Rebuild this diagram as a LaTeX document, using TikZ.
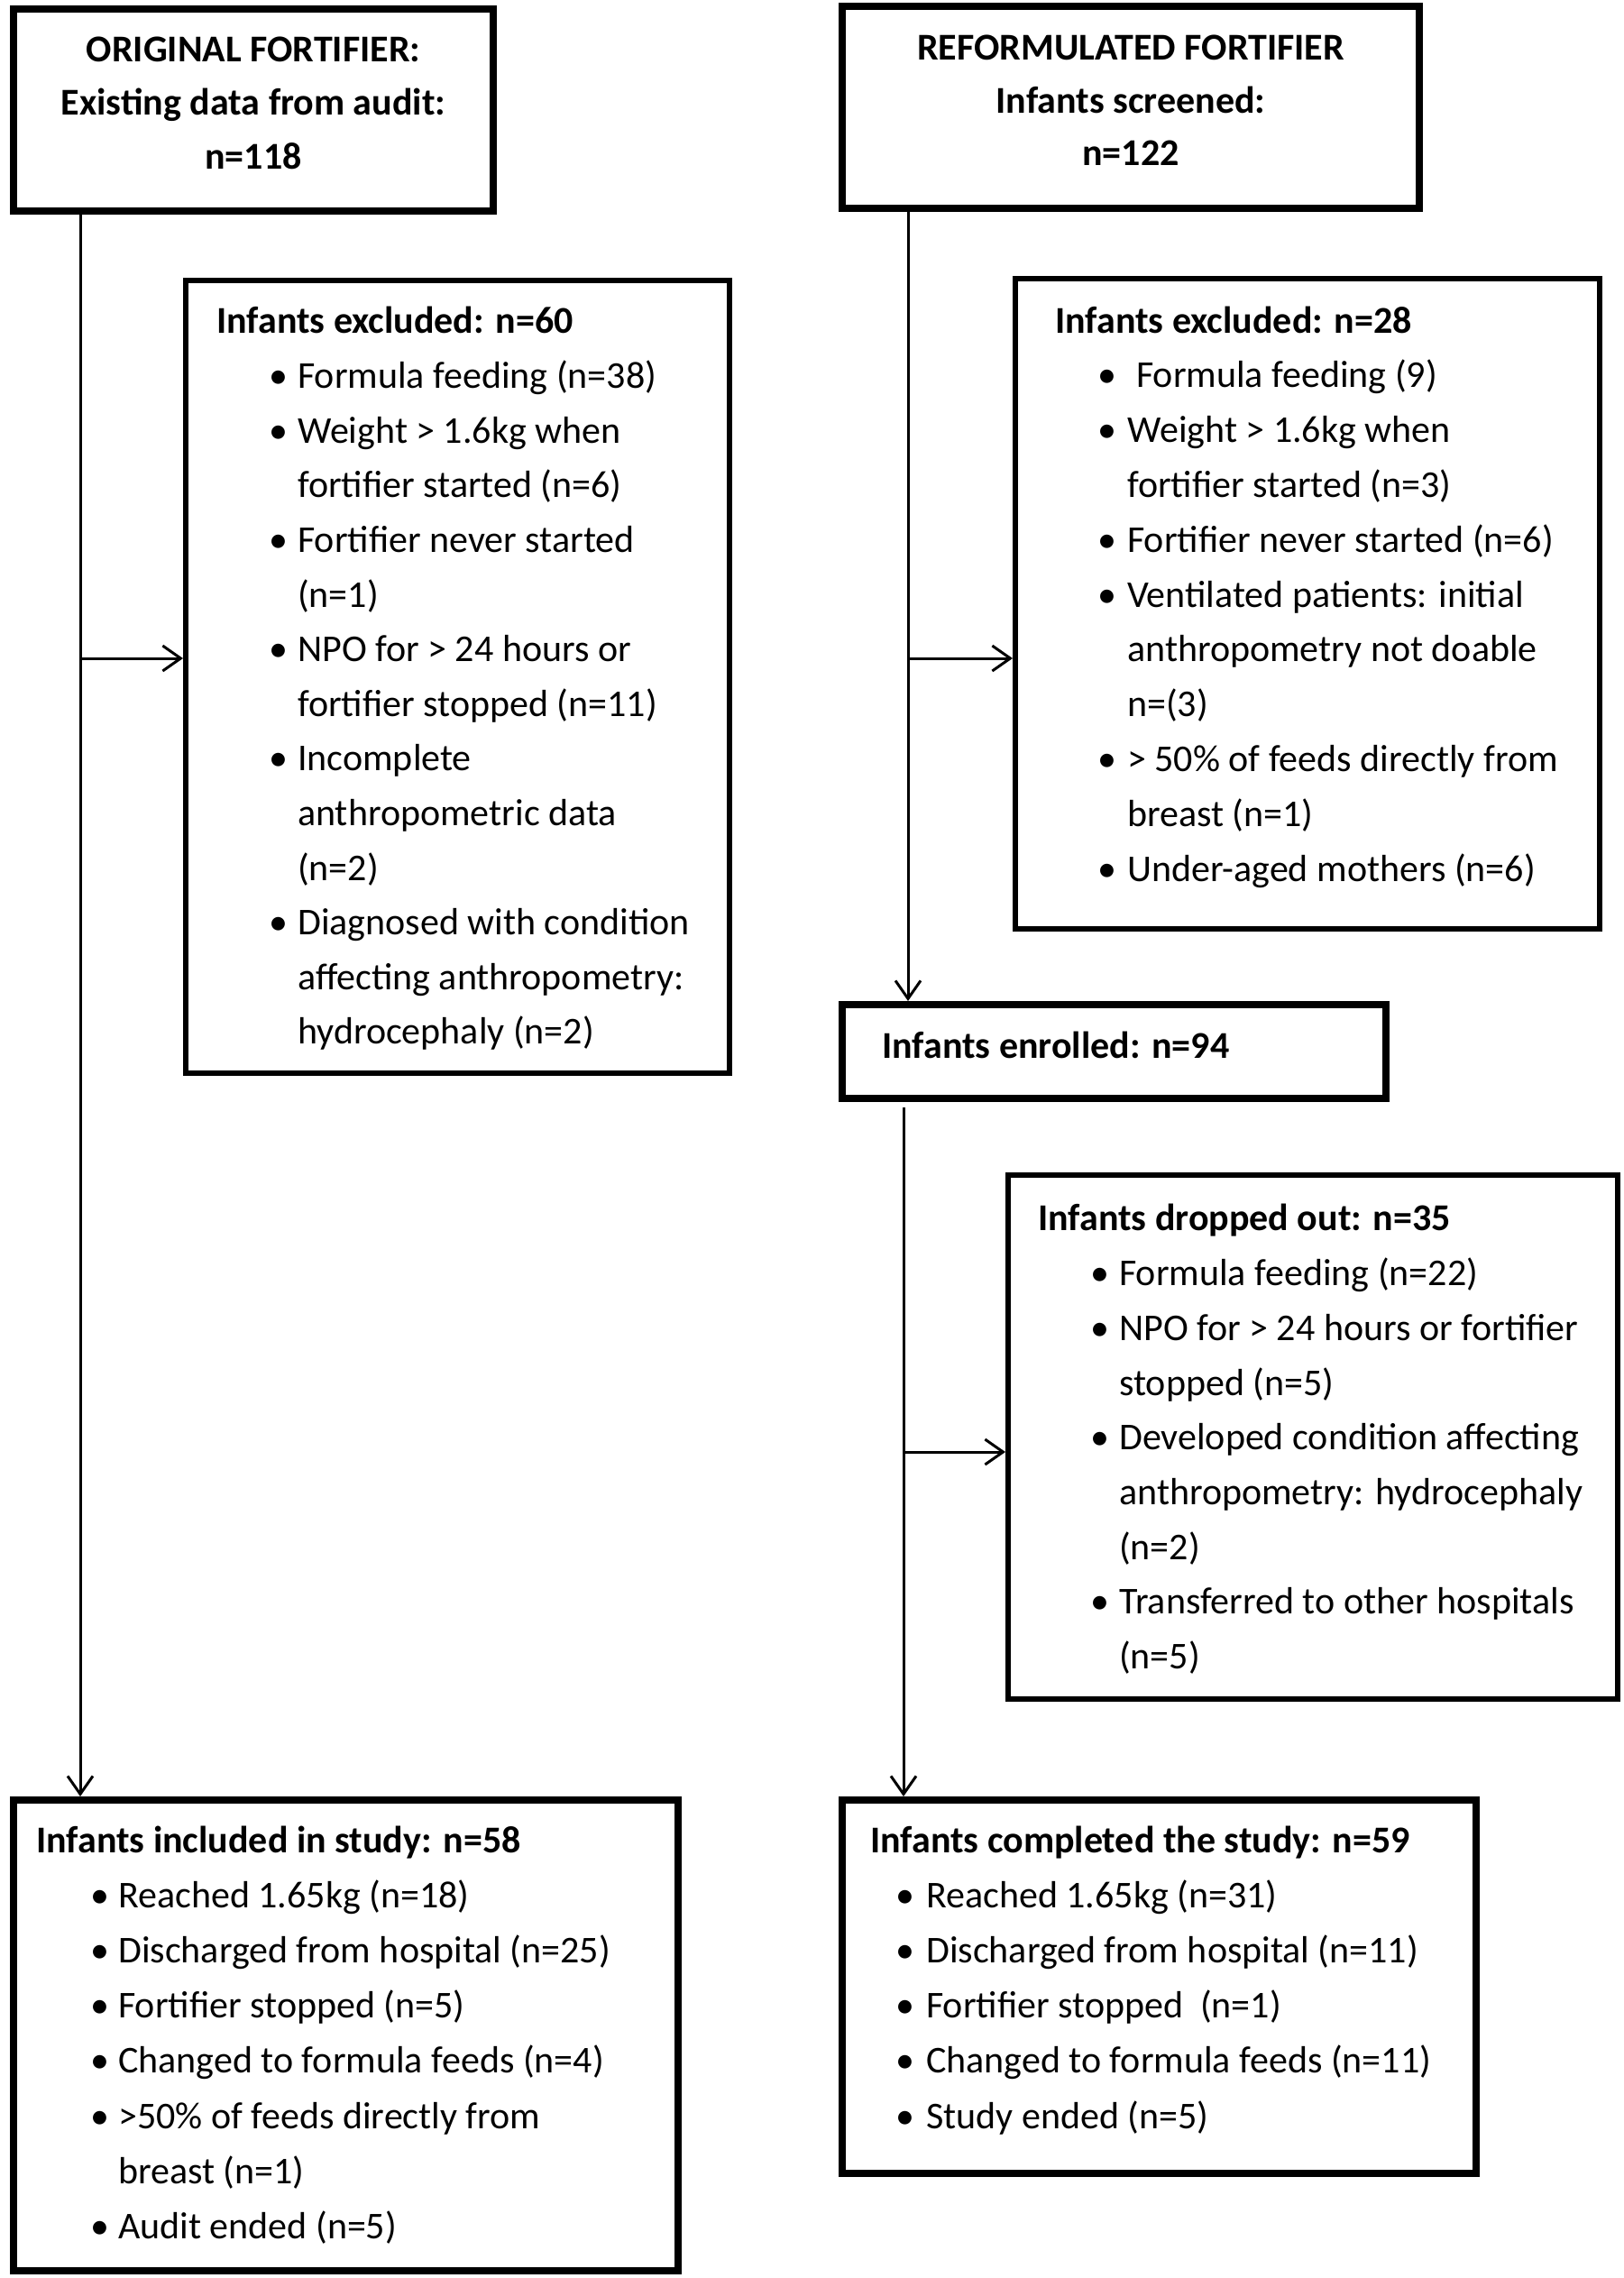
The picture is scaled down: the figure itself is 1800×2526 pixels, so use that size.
\documentclass[tikz,border=0pt]{standalone}
\usepackage{fontspec}
\setmainfont{Carlito}
\usetikzlibrary{arrows.meta}
\newcommand\fsz{\fontsize{42}{50}\selectfont}
% bullet item: name, bullet x, text x, baseline y, text
\newcommand\bl[5]{\node[bul] (#1b) at (#2,#4) {•}; \node[txt] (#1) at (#3,#4) {#5};}
\begin{document}
\begin{tikzpicture}[x=1pt,y=-1pt,
  box/.style={draw, line width=8pt, inner sep=0pt},
  thinbox/.style={draw, line width=6pt, inner sep=0pt},
  txt/.style={anchor=base west, inner sep=0pt, font=\fsz},
  hd/.style={anchor=base west, inner sep=0pt, font=\fsz\bfseries},
  ctr/.style={anchor=base, inner sep=0pt, font=\fsz\bfseries},
  bul/.style={anchor=base, inner sep=0pt, font=\fsz},
  arr/.style={line width=3pt, -{Straight Barb[length=20pt,width=28pt,line width=3pt]}}
]
\useasboundingbox (0,0) rectangle (1800,2526);

% ---------- boxes ----------
\node[box, minimum width=532pt, minimum height=224pt] (A) at (281,122) {};
\node[box, minimum width=640pt, minimum height=224pt] (B) at (1254,119) {};
\node[thinbox, minimum width=603pt, minimum height=879pt] (C) at (507.5,750.5) {};
\node[thinbox, minimum width=648pt, minimum height=721pt] (D) at (1450,669.5) {};
\node[box, minimum width=603pt, minimum height=104pt] (E) at (1235.5,1166) {};
\node[thinbox, minimum width=676pt, minimum height=581pt] (F) at (1456,1593.5) {};
\node[box, minimum width=737pt, minimum height=522pt] (G) at (383.5,2257) {};
\node[box, minimum width=703pt, minimum height=414pt] (H) at (1285.5,2203) {};

% ---------- top boxes text ----------
\node[ctr] (a1) at (281,69) {ORIGINAL FORTIFIER:};
\node[ctr] (a2) at (281,128) {Existing data from audit:};
\node[ctr] (a3) at (281,188) {n=118};
\node[ctr] (b1) at (1254,67) {REFORMULATED FORTIFIER};
\node[ctr] (b2) at (1254,126) {Infants screened:};
\node[ctr] (b3) at (1254,184) {n=122};

% ---------- box C ----------
\node[hd] (c0) at (240,369) {Infants excluded: n=60};
\bl{c1}{309}{330}{370+60.6*1}{Formula feeding (n=38)}
\bl{c2}{309}{330}{370+60.6*2}{Weight > 1.6kg when}
\node[txt] (c3) at (330,370+60.6*3) {fortifier started (n=6)};
\bl{c4}{309}{330}{370+60.6*4}{Fortifier never started}
\node[txt] (c5) at (330,370+60.6*5) {(n=1)};
\bl{c6}{309}{330}{370+60.6*6}{NPO for > 24 hours or}
\node[txt] (c7) at (330,370+60.6*7) {fortifier stopped (n=11)};
\bl{c8}{309}{330}{370+60.6*8}{Incomplete}
\node[txt] (c9) at (330,370+60.6*9) {anthropometric data};
\node[txt] (c10) at (330,370+60.6*10) {(n=2)};
\bl{c11}{309}{330}{370+60.6*11}{Diagnosed with condition}
\node[txt] (c12) at (330,370+60.6*12) {affecting anthropometry:};
\node[txt] (c13) at (330,370+60.6*13) {hydrocephaly (n=2)};

% ---------- box D ----------
\node[hd] (d0) at (1170,369) {Infants excluded: n=28};
\bl{d1}{1228}{1260}{369+60.8*1}{Formula feeding (9)}
\bl{d2}{1228}{1250}{369+60.8*2}{Weight > 1.6kg when}
\node[txt] (d3) at (1250,369+60.8*3) {fortifier started (n=3)};
\bl{d4}{1228}{1250}{369+60.8*4}{Fortifier never started (n=6)}
\bl{d5}{1228}{1250}{369+60.8*5}{Ventilated patients: initial}
\node[txt] (d6) at (1250,369+60.8*6) {anthropometry not doable};
\node[txt] (d7) at (1250,369+60.8*7) {n=(3)};
\bl{d8}{1228}{1250}{369+60.8*8}{> 50\% of feeds directly from}
\node[txt] (d9) at (1250,369+60.8*9) {breast (n=1)};
\bl{d10}{1228}{1250}{369+60.8*10}{Under-aged mothers (n=6)}

% ---------- box E ----------
\node[hd] (e0) at (978,1173) {Infants enrolled: n=94};

% ---------- box F ----------
\node[hd] (f0) at (1151,1364) {Infants dropped out: n=35};
\bl{f1}{1220}{1241}{1365+60.7*1}{Formula feeding (n=22)}
\bl{f2}{1220}{1241}{1365+60.7*2}{NPO for > 24 hours or fortifier}
\node[txt] (f3) at (1241,1365+60.7*3) {stopped (n=5)};
\bl{f4}{1220}{1241}{1365+60.7*4}{Developed condition affecting}
\node[txt] (f5) at (1241,1365+60.7*5) {anthropometry: hydrocephaly};
\node[txt] (f6) at (1241,1365+60.7*6) {(n=2)};
\bl{f7}{1220}{1241}{1365+60.7*7}{Transferred to other hospitals}
\node[txt] (f8) at (1241,1365+60.7*8) {(n=5)};

% ---------- box G ----------
\node[hd] (g0) at (40,2054) {Infants included in study: n=58};
\bl{g1}{111}{131}{2054+61.2*1}{Reached 1.65kg (n=18)}
\bl{g2}{111}{131}{2054+61.2*2}{Discharged from hospital (n=25)}
\bl{g3}{111}{131}{2054+61.2*3}{Fortifier stopped (n=5)}
\bl{g4}{111}{131}{2054+61.2*4}{Changed to formula feeds (n=4)}
\bl{g5}{111}{131}{2054+61.2*5}{>50\% of feeds directly from}
\node[txt] (g6) at (131,2054+61.2*6) {breast (n=1)};
\bl{g7}{111}{131}{2054+61.2*7}{Audit ended (n=5)}

% ---------- box H ----------
\node[hd] (h0) at (965,2054) {Infants completed the study: n=59};
\bl{h1}{1004}{1027}{2054+61.2*1}{Reached 1.65kg (n=31)}
\bl{h2}{1004}{1027}{2054+61.2*2}{Discharged from hospital (n=11)}
\bl{h3}{1004}{1027}{2054+61.2*3}{Fortifier stopped \ (n=1)}
\bl{h4}{1004}{1027}{2054+61.2*4}{Changed to formula feeds (n=11)}
\bl{h5}{1004}{1027}{2054+61.2*5}{Study ended (n=5)}

% ---------- connectors ----------
\coordinate (la) at (89,0);
\coordinate (ra) at (1007,0);
\coordinate (rb) at (1002,0);
\coordinate (j1) at (89,730);
\coordinate (j2) at (1007,730);
\coordinate (j3) at (1002,1610);
\draw[arr] (la |- A.south) -- (la |- G.north);
\draw[arr] (j1) -- (j1 -| C.west);
\draw[arr] (ra |- B.south) -- (ra |- E.north);
\draw[arr] (j2) -- (j2 -| D.west);
\draw[arr, shorten <=6pt] (rb |- E.south) -- (rb |- H.north);
\draw[arr] (j3) -- (j3 -| F.west);
\end{tikzpicture}
\end{document}
